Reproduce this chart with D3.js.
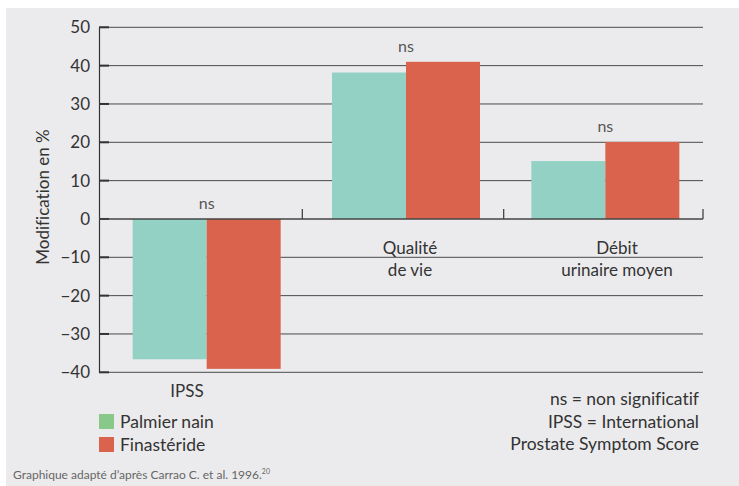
<!DOCTYPE html>
<html><head><meta charset="utf-8">
<script src="https://cdn.jsdelivr.net/npm/d3@7"></script>
<style>
html,body{margin:0;padding:0;background:#fff;}
svg{display:block;}
text{font-family:Lato,"Liberation Sans",sans-serif;font-variant-ligatures:none;font-feature-settings:"liga" 0;}
</style></head>
<body><svg id="c" width="739" height="486"></svg>
<script>
const categories = ["IPSS", "Qualité|de vie", "Débit|urinaire moyen"];
const seriesNames = ["Palmier nain", "Finastéride"];
const palmier = [-36.6, 38.2, 15.1];
const finasteride = [-39.1, 41.0, 20.1];
const yTicks = [50, 40, 30, 20, 10, 0, -10, -20, -30, -40];
const notes = ["ns = non significatif", "IPSS = International", "Prostate Symptom Score"];
const sigLabels = ["ns", "ns", "ns"];

const barColors = ["#93d1c4", "#d9634c"];
const legendColors = ["#88c98a", "#d9634c"];

const svg = d3.select("#c");
svg.append("rect").attr("x",6).attr("y",8).attr("width",733).attr("height",478).attr("fill","#ebebed");

const y = d3.scaleLinear().domain([-40, 50]).range([372.3, 27.3]);
const x0 = d3.scaleBand().domain(categories).range([107, 705]).paddingInner(0).paddingOuter(0);
const x1 = d3.scaleBand().domain(seriesNames).range([0, 148]);
const axisL = 99, axisR = 703;

// gridlines
svg.append("g").selectAll("line").data(yTicks.filter(d=>d!==0)).join("line")
  .attr("x1", axisL).attr("x2", axisR)
  .attr("y1", d=>y(d)).attr("y2", d=>y(d))
  .attr("stroke", "#4a4a4a").attr("stroke-width", 1);

// bars
const series = [palmier, finasteride];
const g = svg.append("g");
categories.forEach((c, i) => {
  const cx = x0(c) + x0.bandwidth()/2;
  seriesNames.forEach((s, j) => {
    const v = series[j][i];
    g.append("rect")
      .attr("x", cx - 74 + x1(s))
      .attr("width", x1.bandwidth())
      .attr("y", y(Math.max(0, v)))
      .attr("height", Math.abs(y(v) - y(0)))
      .attr("fill", barColors[j]);
  });
  const top = Math.max(palmier[i], finasteride[i], 0);
  svg.append("text").attr("x", cx).attr("y", y(top) - 10)
    .attr("text-anchor","middle").attr("font-size",16).attr("fill","#555")
    .text(sigLabels[i]);
});

// y axis
const yAxis = d3.axisLeft(y).tickValues(yTicks).tickSize(0).tickPadding(9)
  .tickFormat(d => d < 0 ? "\u2212" + Math.abs(d) : d);
const ya = svg.append("g").attr("transform", `translate(${axisL},0)`).call(yAxis);
ya.select(".domain").attr("stroke","#333").attr("stroke-width",1.2);
ya.selectAll("text").attr("font-size",17).attr("fill","#333").attr("font-family","Lato,'Liberation Sans',sans-serif");
// thicker tick stubs
svg.append("g").selectAll("line").data(yTicks).join("line")
  .attr("x1", axisL).attr("x2", axisL + 10)
  .attr("y1", d=>y(d)).attr("y2", d=>y(d))
  .attr("stroke", "#333").attr("stroke-width", 2);

// zero line
svg.append("line").attr("x1", axisL).attr("x2", axisR).attr("y1", y(0)).attr("y2", y(0))
  .attr("stroke", "#444").attr("stroke-width", 1.5);
// category separator ticks
const seps = [x0(categories[1]) - 4, x0(categories[2]) - 2, axisR];
svg.append("g").selectAll("line").data(seps).join("line")
  .attr("x1", d=>d).attr("x2", d=>d).attr("y1", y(0)).attr("y2", y(0) - 10)
  .attr("stroke", "#444").attr("stroke-width", 1.3);

// category labels
const labelPos = [[187, 397], [410, 254], [617, 254]];
categories.forEach((c, i) => {
  const lines = c.split("|");
  const t = svg.append("text").attr("text-anchor","middle").attr("font-size",17).attr("fill","#333");
  lines.forEach((l, k) => {
    t.append("tspan").attr("x", labelPos[i][0]).attr("y", labelPos[i][1] + k*22).text(l);
  });
});

// y label
svg.append("text").attr("transform","translate(49,197) rotate(-90)")
  .attr("text-anchor","middle").attr("font-size",17).attr("fill","#333")
  .text("Modification en %");

// legend
seriesNames.forEach((s, j) => {
  svg.append("rect").attr("x", 99).attr("y", 414 + j*23).attr("width", 15).attr("height", 15)
    .attr("fill", legendColors[j]);
  svg.append("text").attr("x", 120).attr("y", 428 + j*23).attr("font-size",17.5).attr("fill","#333").text(s);
});

// notes
notes.forEach((n, k) => {
  svg.append("text").attr("x", 699).attr("y", 405 + k*22.5).attr("text-anchor","end")
    .attr("font-size",17.5).attr("fill","#333").text(n);
});

// footer
const f = svg.append("text").attr("x", 13).attr("y", 479).attr("font-size",12).attr("fill","#666");
f.append("tspan").text("Graphique adapté d’après Carrao C. et al. 1996.");
f.append("tspan").attr("font-size",7).attr("dy",-5).text("20");
</script></body></html>
